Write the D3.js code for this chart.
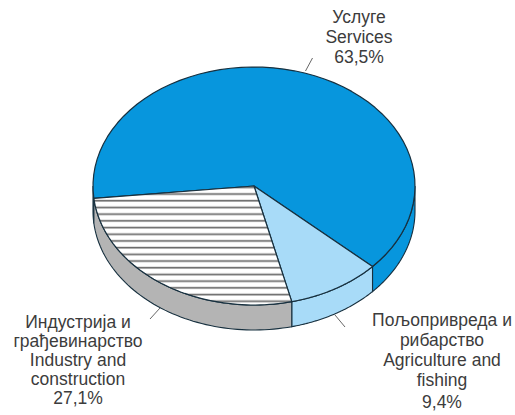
<!DOCTYPE html>
<html><head><meta charset="utf-8">
<script src="https://cdn.jsdelivr.net/npm/d3@7"></script>
<style>html,body{margin:0;background:#fff}svg{display:block}text{font-family:"Liberation Sans",Arial,sans-serif;font-size:17.5px;fill:#3c3c3c;text-anchor:middle}</style>
</head><body><svg id="c" width="515" height="415"></svg>
<script>
const categories=["Services","Agriculture and fishing","Industry and construction"];
const values=[63.5,9.4,27.1];
const topColors=["#0796dd","#a8dbf8","url(#hatch)"];
const sideColors=["#0796dd","#a8dbf8","#b4b4b4"];
const labels=[
 ["Услуге","Services","63,5%"],
 ["Пољопривреда и","рибарство","Agriculture and","fishing","9,4%"],
 ["Индустрија и","грађевинарство","Industry and","construction","27,1%"]
];
const labelX=[359,442,78];
const labelY=[[23,43,63],[326,346,366,386,408],[328,347,366,385,404]];
const leaders=[[[305.5,71],[312.5,58]],[[335,315],[345,327]],[[150,319],[160,308]]];

const cx=254,cy=186,rx=161,ry=119,depth=25,startDeg=264,outline="#17303f";
const svg=d3.select("#c");
const defs=svg.append("defs");
const p=defs.append("pattern").attr("id","hatch").attr("patternUnits","userSpaceOnUse").attr("width",10).attr("height",6.7).attr("y",1);
p.append("rect").attr("width",10).attr("height",6.7).attr("fill","#fff");
p.append("rect").attr("y",4.6).attr("width",10).attr("height",1.7).attr("fill","#6a6a6a");

const rad=Math.PI/180;
const pie=d3.pie().sort(null).value(d=>d).startAngle(startDeg*rad).endAngle((startDeg+360)*rad);
const arcs=pie(values);
const X=a=>cx+rx*Math.sin(a), Y=a=>cy-ry*Math.cos(a);
const sweep=(a0,a1)=>d3.range(0,61).map(i=>a0+(a1-a0)*i/60);
const norm=a=>{const t=2*Math.PI;return ((a%t)+t)%t;};
const line=d3.line();
const lo=90*rad, hi=270*rad;
arcs.forEach((d,i)=>{
  const a0=norm(d.startAngle),a1=a0+(d.endAngle-d.startAngle);
  [0,2*Math.PI].forEach(k=>{
    const s=Math.max(a0,lo+k),e=Math.min(a1,hi+k);
    if(e<=s)return;
    const upper=sweep(s,e).map(a=>[X(a),Y(a)]);
    const lower=sweep(s,e).reverse().map(a=>[X(a),Y(a)+depth]);
    svg.append("path").attr("d",line(upper.concat(lower))+"Z").attr("fill",sideColors[i]).attr("stroke",outline).attr("stroke-width",1.1);
  });
});
arcs.forEach((d,i)=>{
  const pts=[[cx,cy]].concat(sweep(d.startAngle,d.endAngle).map(a=>[X(a),Y(a)]));
  svg.append("path").attr("d",line(pts)+"Z").attr("fill",topColors[i]).attr("stroke",outline).attr("stroke-width",1.2).attr("stroke-linejoin","round");
});
leaders.forEach(l=>svg.append("path").attr("d",line(l)).attr("stroke","#666").attr("stroke-width",1).attr("fill","none"));
labels.forEach((ls,i)=>{
  const t=svg.append("text");
  ls.forEach((s,j)=>t.append("tspan").attr("x",labelX[i]).attr("y",labelY[i][j]).text(s));
});
</script></body></html>
